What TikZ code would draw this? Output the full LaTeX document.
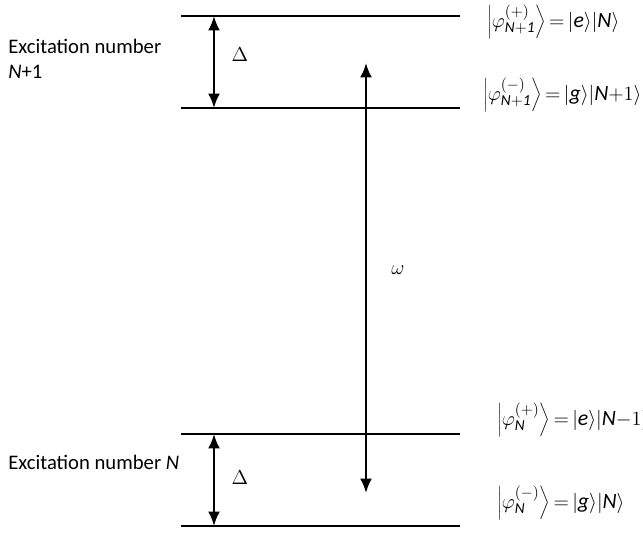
\documentclass[tikz,border=0pt]{standalone}
\usepackage{fontspec}
\setmainfont{Carlito}
\usetikzlibrary{arrows.meta}
\newcommand{\kt}[1]{\left|#1\right\rangle}
\newcommand{\st}[2]{\varphi^{(#1)}_{\mathit{#2}}}

\begin{document}
\begin{tikzpicture}[x=0.025cm, y=-0.025cm, >={Latex[length=3.6mm,width=3mm]},
  level/.style={line width=1.3pt},
  gap/.style={<->, line width=1.8pt},
  sym/.style={font=\fontsize{15}{18}\selectfont},
  txt/.style={font=\fontsize{14.7}{18}\selectfont, anchor=west, inner sep=0pt, align=left},
  ket/.style={font=\fontsize{15.5}{18}\selectfont, anchor=west, inner sep=0pt}]
  \useasboundingbox (0,0) rectangle (643,533);
  % energy levels
  \coordinate (u1) at (181,16);  \coordinate (u2) at (460,16);
  \coordinate (l1) at (181,108); \coordinate (l2) at (460,108);
  \coordinate (m1) at (181,434); \coordinate (m2) at (460,434);
  \coordinate (b1) at (181,526); \coordinate (b2) at (460,526);
  \draw[level] (u1) -- (u2);
  \draw[level] (l1) -- (l2);
  \draw[level] (m1) -- (m2);
  \draw[level] (b1) -- (b2);
  % splittings
  \coordinate (du) at (214,16);  \coordinate (dl) at (214,108);
  \coordinate (dm) at (214,434); \coordinate (db) at (214,526);
  \draw[gap] (du) -- (dl);
  \draw[gap] (dm) -- (db);
  \node[sym] (d1) at (240,55) {$\Delta$};
  \node[sym] (d2) at (240,478) {$\Delta$};
  % photon
  \coordinate (wt) at (366,63); \coordinate (wb) at (366,493);
  \draw[gap] (wt) -- (wb);
  \node[sym] (w) at (398,270) {$\omega$};
  % manifolds
  \node[txt] (n1) at (8,59) {Excitation number\\\textit{N}+1};
  \node[txt] (n0) at (8,462) {Excitation number \textit{N}};
  % states
  \node[ket] (k1) at (487,22) {$\kt{\st{+}{N+1}}{=}\kt{\mathit{e}}\!\kt{\mathit{N}}$};
  \node[ket] (k2) at (483,95) {$\kt{\st{-}{N+1}}{=}\kt{\mathit{g}}\!\kt{\mathit{N}{+}1}$};
  \node[ket] (k3) at (497,420) {$\kt{\st{+}{N}}{=}\kt{\mathit{e}}\!\kt{\mathit{N}{-}1}$};
  \node[ket] (k4) at (497,503) {$\kt{\st{-}{N}}{=}\kt{\mathit{g}}\!\kt{\mathit{N}}$};
\end{tikzpicture}
\end{document}
